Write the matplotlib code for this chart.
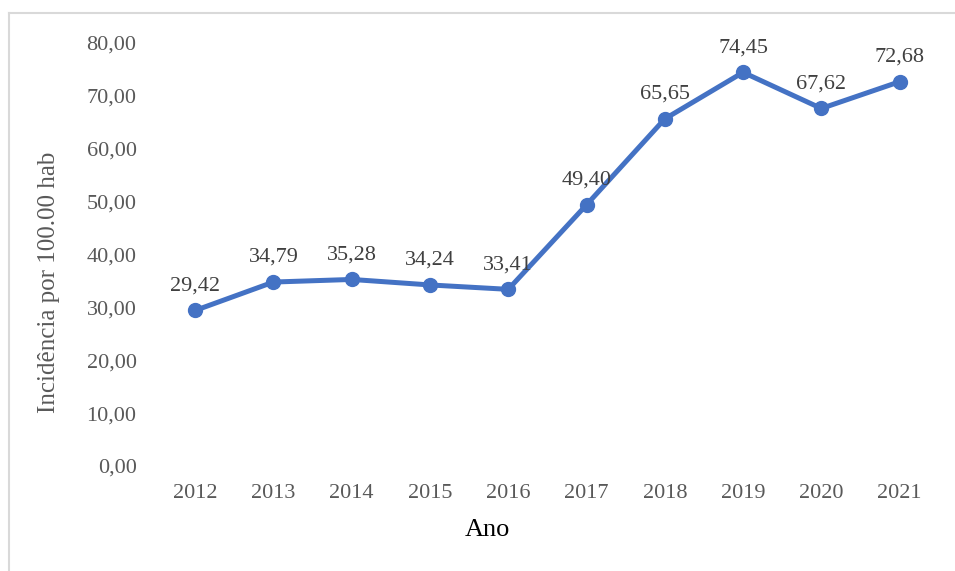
import matplotlib.pyplot as plt
from matplotlib.lines import Line2D

# Data
years = ['2012', '2013', '2014', '2015', '2016', '2017', '2018', '2019', '2020', '2021']
incidence = [29.42, 34.79, 35.28, 34.24, 33.41, 49.40, 65.65, 74.45, 67.62, 72.68]
y_ticks = [0, 10, 20, 30, 40, 50, 60, 70, 80]

plt.rcParams['font.family'] = ['Liberation Serif', 'DejaVu Serif']
gray = '#595959'
blue = '#4472C4'

fig = plt.figure(figsize=(9.55, 5.71), dpi=100)
ax = fig.add_axes([0.1634, 0.1839, 0.8196, 0.7408])

x = range(len(years))
ax.plot(x, incidence, color=blue, linewidth=3.6, marker='o', markersize=10,
        solid_capstyle='round', solid_joinstyle='round')

for i, v in zip(x, incidence):
    ax.annotate(f'{v:.2f}'.replace('.', ','), (i, v), xytext=(0, 11),
                textcoords='offset points', ha='center', va='bottom',
                fontsize=16, color='#404040')

ax.set_xlim(-0.5, len(years) - 0.5)
ax.set_ylim(0, 80)
ax.set_xticks(list(x))
ax.set_xticklabels(years)
ax.set_yticks(y_ticks)
ax.set_yticklabels([f'{t:.2f}'.replace('.', ',') for t in y_ticks])
ax.tick_params(axis='both', length=0, labelsize=16, labelcolor=gray)
ax.tick_params(axis='x', pad=13)
ax.tick_params(axis='y', pad=14)
for s in ax.spines.values():
    s.set_visible(False)

ax.set_xlabel('Ano', fontsize=19, color='black')
ax.xaxis.set_label_coords(0.424, -0.125)
ax.set_ylabel('Incidência por 100.00 hab', fontsize=18, color=gray)
ax.yaxis.set_label_coords(-0.1227, 0.435)

# light frame around the chart (left and top edges visible)
fig.add_artist(Line2D([9 / 955, 9 / 955], [0, 1 - 13 / 571], color='#D9D9D9', linewidth=1.5,
                      transform=fig.transFigure))
fig.add_artist(Line2D([9 / 955, 1], [1 - 13 / 571, 1 - 13 / 571], color='#D9D9D9', linewidth=1.5,
                      transform=fig.transFigure))

fig.savefig('out.png', dpi=100)
